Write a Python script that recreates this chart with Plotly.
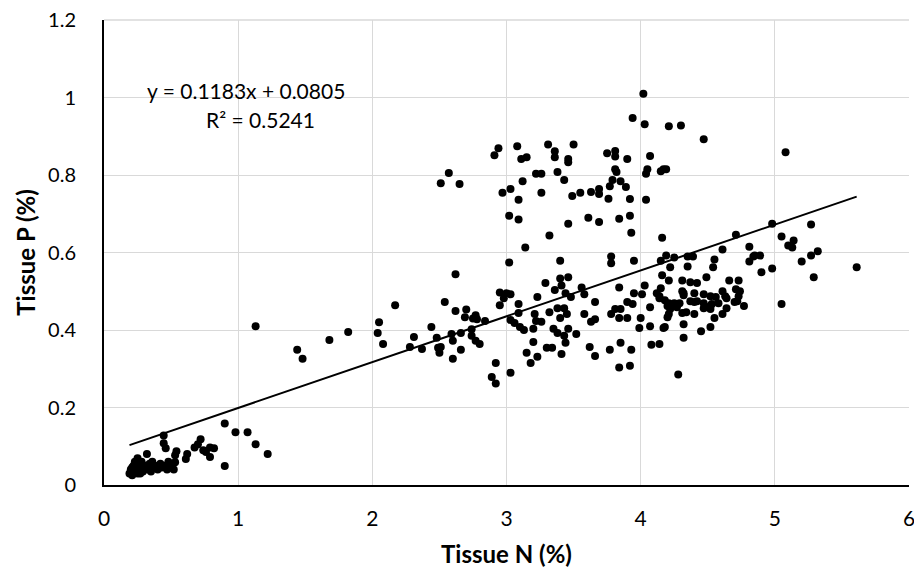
import plotly.graph_objects as go

# Tissue N (%) and Tissue P (%) values
tissue_n = [
    # low cluster
    0.90, 0.98, 1.07, 1.13, 1.22, 0.90, 0.72, 0.675, 0.74, 0.79, 0.82, 0.79, 0.61, 0.53,
    0.445, 0.445, 0.46, 0.54, 0.32, 0.25, 0.53, 0.70, 0.76, 0.62,
    0.19, 0.20, 0.21, 0.22, 0.23, 0.24, 0.25, 0.26, 0.27, 0.28, 0.29, 0.30, 0.31, 0.33,
    0.34, 0.35, 0.37, 0.38, 0.40, 0.42, 0.43, 0.45, 0.47, 0.48, 0.50, 0.52, 0.23, 0.21,
    0.36, 0.27, 1.13,
    # 1.4 - 2.85
    1.44, 1.48, 1.68, 1.82, 2.17, 2.05, 2.04, 2.08, 2.54, 2.62, 2.70, 2.44, 2.31, 2.28,
    2.37, 2.48, 2.49, 2.50, 2.51, 2.59, 2.60, 2.66, 2.66, 2.60, 2.74, 2.74, 2.75, 2.69,
    2.77, 2.78, 2.84, 2.77, 2.80, 2.57, 2.51, 2.65, 2.62,
    # 2.9 - 4.0 upper group
    2.94, 2.91, 3.08, 3.31, 3.50, 3.36, 3.36, 3.11, 3.15, 3.46, 3.46, 3.75, 3.81, 3.81,
    3.90, 3.81, 3.82, 3.79, 3.85, 3.77, 3.89, 3.76, 3.92, 3.22, 3.26, 3.38, 3.12, 3.43,
    2.97, 3.03, 3.09, 3.26, 3.49, 3.55, 3.63, 3.69, 3.69, 3.02, 3.09, 3.46, 3.61, 3.69,
    3.84, 3.92, 3.93, 3.32, 3.14, 3.94,
    # 2.9 - 4.0 lower group
    3.02, 3.78, 3.78, 3.95, 3.40, 3.46, 3.40, 3.29, 3.41, 3.36, 3.56, 3.84, 3.95, 2.95,
    3.00, 3.03, 3.23, 3.44, 3.58, 2.98, 3.48, 3.09, 2.95, 3.66, 3.90, 3.94, 3.09, 3.21,
    3.22, 3.26, 3.32, 3.38, 3.43, 3.45, 3.40, 3.58, 3.63, 3.66, 3.78, 3.81, 3.85, 3.84,
    3.90, 3.03, 3.06, 3.10, 3.13, 3.20, 3.35, 3.38, 3.43, 3.46, 3.52, 3.44, 3.20, 3.30,
    3.34, 3.15, 3.23, 3.18, 3.41, 3.62, 3.66, 3.77, 3.85, 3.93, 3.84, 3.92, 2.92, 2.89,
    2.92, 3.03,
    # 4.0 - 5.7
    4.02, 4.03, 4.21, 4.30, 4.47, 4.07, 4.05, 4.04, 4.15, 4.17, 4.19, 4.04, 4.16, 4.71,
    4.81, 4.85, 4.81, 4.61, 4.55, 4.54, 4.35, 4.39, 4.25, 4.19, 4.15, 4.22, 4.35, 4.84,
    4.89, 4.90, 4.98, 4.16, 4.21, 4.31, 4.37, 4.42, 4.49, 4.66, 4.73, 4.71, 4.74, 4.61,
    4.03, 4.01, 4.12, 4.32, 4.40, 4.47, 4.52, 4.56, 4.15, 4.31, 4.73, 4.64, 4.70, 4.77,
    4.64, 4.61, 4.55, 4.52, 4.45, 4.32, 4.32, 4.31, 4.34, 4.40, 4.37, 4.42, 4.47, 4.47,
    4.52, 4.52, 4.25, 4.27, 4.20, 4.22, 4.14, 4.18, 4.07, 4.20, 4.17, 4.18, 4.07, 3.99,
    4.00, 4.08, 4.14, 4.28, 4.14, 4.32, 4.63, 4.21, 4.29, 4.40, 4.53, 4.58, 4.21,
    5.08, 4.98, 5.27, 5.05, 5.14, 5.10, 5.13, 5.32, 5.27, 5.20, 5.29, 5.61, 4.72, 5.05,
]
tissue_p = [
    # low cluster
    0.159, 0.136, 0.136, 0.105, 0.080, 0.049, 0.118, 0.097, 0.090, 0.097, 0.095, 0.072, 0.067, 0.059,
    0.128, 0.108, 0.095, 0.087, 0.080, 0.069, 0.077, 0.105, 0.085, 0.080,
    0.030, 0.040, 0.025, 0.050, 0.035, 0.045, 0.030, 0.055, 0.040, 0.060, 0.035, 0.045, 0.050, 0.040,
    0.055, 0.035, 0.045, 0.050, 0.040, 0.055, 0.045, 0.050, 0.040, 0.060, 0.045, 0.040, 0.060, 0.045,
    0.060, 0.030, 0.410,
    # 1.4 - 2.85
    0.349, 0.326, 0.374, 0.395, 0.464, 0.420, 0.392, 0.364, 0.472, 0.449, 0.453, 0.408, 0.382, 0.356,
    0.351, 0.380, 0.354, 0.341, 0.356, 0.390, 0.372, 0.392, 0.349, 0.326, 0.385, 0.402, 0.430, 0.433,
    0.438, 0.428, 0.423, 0.372, 0.364, 0.805, 0.779, 0.777, 0.544,
    # 2.9 - 4.0 upper group
    0.869, 0.851, 0.874, 0.879, 0.879, 0.861, 0.846, 0.841, 0.846, 0.841, 0.833, 0.856, 0.862, 0.848,
    0.841, 0.815, 0.808, 0.787, 0.784, 0.771, 0.769, 0.739, 0.738, 0.803, 0.803, 0.808, 0.784, 0.787,
    0.754, 0.764, 0.736, 0.754, 0.746, 0.754, 0.756, 0.764, 0.751, 0.695, 0.685, 0.674, 0.690, 0.679,
    0.687, 0.695, 0.651, 0.644, 0.613, 0.947,
    # 2.9 - 4.0 lower group
    0.574, 0.590, 0.572, 0.579, 0.579, 0.536, 0.533, 0.521, 0.515, 0.503, 0.510, 0.510, 0.495, 0.497,
    0.495, 0.492, 0.485, 0.495, 0.492, 0.482, 0.485, 0.467, 0.464, 0.472, 0.472, 0.467, 0.444, 0.441,
    0.423, 0.421, 0.446, 0.456, 0.456, 0.441, 0.431, 0.441, 0.421, 0.428, 0.441, 0.454, 0.454, 0.431,
    0.431, 0.426, 0.418, 0.408, 0.400, 0.403, 0.403, 0.392, 0.385, 0.403, 0.390, 0.367, 0.369, 0.354,
    0.354, 0.341, 0.331, 0.315, 0.338, 0.356, 0.333, 0.349, 0.367, 0.349, 0.303, 0.308, 0.315, 0.279,
    0.262, 0.290,
    # 4.0 - 5.7
    1.010, 0.931, 0.926, 0.928, 0.892, 0.849, 0.815, 0.803, 0.810, 0.815, 0.815, 0.736, 0.638, 0.646,
    0.615, 0.592, 0.577, 0.608, 0.582, 0.562, 0.590, 0.590, 0.587, 0.592, 0.579, 0.562, 0.564, 0.590,
    0.592, 0.549, 0.559, 0.541, 0.528, 0.528, 0.523, 0.521, 0.536, 0.528, 0.528, 0.505, 0.500, 0.500,
    0.515, 0.492, 0.495, 0.495, 0.495, 0.492, 0.487, 0.485, 0.508, 0.500, 0.487, 0.482, 0.472, 0.462,
    0.456, 0.441, 0.431, 0.408, 0.397, 0.380, 0.415, 0.444, 0.446, 0.441, 0.474, 0.474, 0.469, 0.456,
    0.462, 0.454, 0.469, 0.459, 0.462, 0.454, 0.482, 0.477, 0.459, 0.433, 0.405, 0.408, 0.410, 0.405,
    0.431, 0.362, 0.364, 0.285, 0.487, 0.490, 0.487, 0.469, 0.469, 0.472, 0.467, 0.469, 0.441,
    0.859, 0.674, 0.672, 0.641, 0.631, 0.618, 0.613, 0.603, 0.592, 0.577, 0.536, 0.562, 0.474, 0.467,
]

# Linear trendline reported on the chart
slope = 0.1183
intercept = 0.0805
r_squared = 0.5241

x_ticks = [0, 1, 2, 3, 4, 5, 6]
y_ticks = [0, 0.2, 0.4, 0.6, 0.8, 1.0, 1.2]

FONT = "Lato, 'Open Sans', sans-serif"
GRID = "#d9d9d9"

x_line = [min(tissue_n), max(tissue_n)]
y_line = [slope * v + intercept for v in x_line]

fig = go.Figure()
fig.add_trace(go.Scatter(
    x=tissue_n, y=tissue_p, mode="markers",
    marker=dict(color="black", size=8, line=dict(width=0)),
    showlegend=False, hoverinfo="x+y",
))
fig.add_trace(go.Scatter(
    x=x_line, y=y_line, mode="lines",
    line=dict(color="black", width=2),
    showlegend=False, hoverinfo="skip",
))

fig.add_annotation(
    x=1.06, y=1.018, xref="x", yref="y",
    text=f"y = {slope}x + {intercept}", showarrow=False,
    font=dict(family=FONT, size=21, color="black"),
)
fig.add_annotation(
    x=1.17, y=0.944, xref="x", yref="y",
    text=f"R² = {r_squared}", showarrow=False,
    font=dict(family=FONT, size=21, color="black"),
)

# top border gridline of the plot area (edge of the value range)
fig.add_shape(type="line", xref="paper", yref="paper", x0=0, x1=1, y0=1, y1=1,
              line=dict(color=GRID, width=1.3), layer="below")

fig.update_layout(
    width=922, height=577,
    margin=dict(l=96, r=21, t=12, b=100, autoexpand=False),
    paper_bgcolor="white", plot_bgcolor="white",
    font=dict(family=FONT, size=21, color="black"),
)
fig.update_xaxes(
    range=[0, 6], tickvals=x_ticks, automargin=False,
    showgrid=True, gridcolor=GRID, gridwidth=1.3,
    showline=True, linecolor="black", linewidth=2,
    zeroline=False, ticks="", ticklabelstandoff=14, ticklabeloverflow="allow",
    tickfont=dict(size=21),
    title=dict(text="<b>Tissue N (%)</b>", font=dict(family=FONT, size=24), standoff=17),
)
fig.update_yaxes(
    range=[0, 1.2], tickvals=y_ticks, automargin=False,
    showgrid=True, gridcolor=GRID, gridwidth=1.3,
    showline=True, linecolor="black", linewidth=2,
    zeroline=False, ticks="", ticklabelstandoff=22, ticklabeloverflow="allow",
    tickfont=dict(size=20),
    title=dict(text="<b>Tissue P (%)</b>", font=dict(family=FONT, size=24), standoff=6),
)

fig.write_html("out.html")
